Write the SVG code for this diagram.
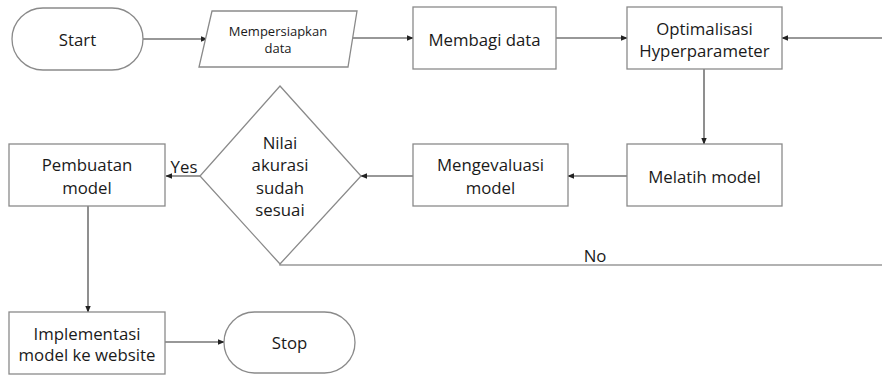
<svg xmlns="http://www.w3.org/2000/svg" width="882" height="375" viewBox="0 0 882 375">
<defs>
<style>
.s{fill:#fff;stroke:#8a8a8a;stroke-width:1.3}
.c{fill:none;stroke:#333;stroke-width:1.1}
.g{fill:none;stroke:#999;stroke-width:1.5}
text{font-family:"Open Sans","Liberation Sans",sans-serif;font-size:16.8px;fill:#1a1a1a;text-anchor:middle;dominant-baseline:central}
.sm{font-size:13px}
</style>
<marker id="a" viewBox="0 0 10 10" refX="9" refY="5" markerWidth="7" markerHeight="7" markerUnits="userSpaceOnUse" orient="auto"><path d="M0,1 L10,5 L0,9 z" fill="#222"/></marker>
</defs>
<rect width="882" height="375" fill="#fff"/>
<g id="connectors">
<line class="c" x1="143" y1="39" x2="207" y2="39" marker-end="url(#a)"/>
<line class="c" x1="352" y1="38" x2="413" y2="38" marker-end="url(#a)"/>
<line class="c" x1="556" y1="38" x2="627" y2="38" marker-end="url(#a)"/>
<line class="c" x1="882" y1="38" x2="782" y2="38" marker-end="url(#a)"/>
<line class="c" x1="704" y1="69" x2="704" y2="144" marker-end="url(#a)"/>
<line class="c" x1="627" y1="176" x2="568" y2="176" marker-end="url(#a)"/>
<line class="c" x1="413" y1="176" x2="361" y2="176" marker-end="url(#a)"/>
<line class="c" x1="200" y1="176" x2="166" y2="176" marker-end="url(#a)"/>
<polyline class="g" points="280,264 280,265 882,265"/>
<line class="c" x1="88" y1="206" x2="88" y2="312" marker-end="url(#a)"/>
<line class="c" x1="165" y1="342" x2="224" y2="342" marker-end="url(#a)"/>
<text x="184" y="166">Yes</text>
<text x="595" y="255">No</text>
</g>
<g id="start"><rect class="s" x="12" y="8" width="131" height="62" rx="31"/><text x="77.5" y="39">Start</text></g>
<g id="mempersiapkan"><polygon class="s" points="212,11 357,11 348,67 199,67"/><text class="sm" x="278" y="31">Mempersiapkan</text><text class="sm" x="278" y="48">data</text></g>
<g id="membagi"><rect class="s" x="413" y="7" width="143" height="62"/><text x="484.5" y="39">Membagi data</text></g>
<g id="optimalisasi"><rect class="s" x="627" y="7" width="155" height="62"/><text x="704.5" y="28">Optimalisasi</text><text x="704.5" y="50">Hyperparameter</text></g>
<g id="melatih"><rect class="s" x="627" y="144" width="155" height="62"/><text x="704.5" y="176">Melatih model</text></g>
<g id="mengevaluasi"><rect class="s" x="413" y="144" width="155" height="62"/><text x="490.5" y="164">Mengevaluasi</text><text x="490.5" y="187">model</text></g>
<g id="decision"><polygon class="s" points="280,86 361,176 280,264 200,176"/><text x="280" y="142">Nilai</text><text x="280" y="164">akurasi</text><text x="280" y="187">sudah</text><text x="280" y="209">sesuai</text></g>
<g id="pembuatan"><rect class="s" x="9" y="144" width="156" height="62"/><text x="87" y="164">Pembuatan</text><text x="87" y="187">model</text></g>
<g id="implementasi"><rect class="s" x="9" y="312" width="156" height="62"/><text x="87" y="333">Implementasi</text><text x="87" y="354">model ke website</text></g>
<g id="stop"><rect class="s" x="224" y="312" width="131" height="61" rx="30.5"/><text x="289.5" y="342">Stop</text></g>
</svg>
